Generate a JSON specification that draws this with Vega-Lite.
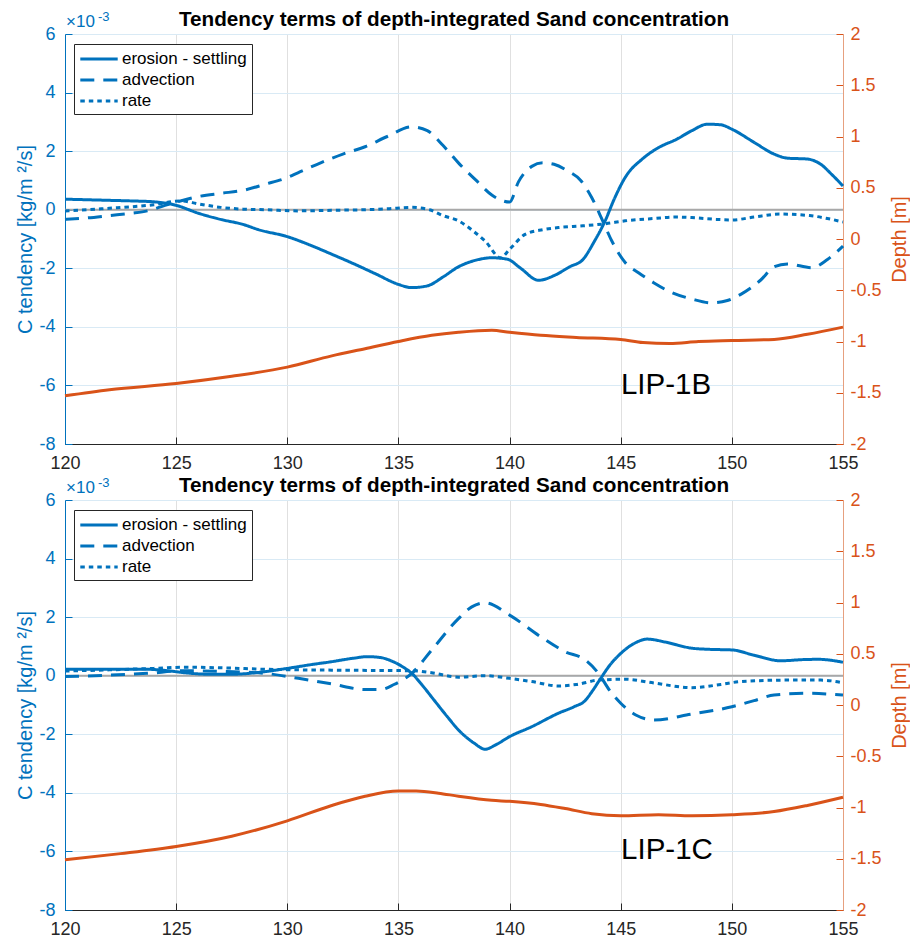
{
  "$schema": "https://vega.github.io/schema/vega-lite/v6.json",
  "background": "#ffffff",
  "padding": {"left": 15, "top": 8, "right": 0, "bottom": 0},
  "spacing": 2,
  "config": {
    "font": "Liberation Sans",
    "view": {"stroke": null},
    "axis": {"labelFont": "Liberation Sans", "titleFont": "Liberation Sans"},
    "legend": {"labelFont": "Liberation Sans"},
    "title": {"font": "Liberation Sans"}
  },
  "datasets": {
    "tendency": [
      {"panel":1,"series":"erosion - settling","x":120,"value":0.36},{"panel":1,"series":"erosion - settling","x":121,"value":0.34},{"panel":1,"series":"erosion - settling","x":122,"value":0.32},{"panel":1,"series":"erosion - settling","x":123,"value":0.3},{"panel":1,"series":"erosion - settling","x":124,"value":0.27},{"panel":1,"series":"erosion - settling","x":125,"value":0.15},{"panel":1,"series":"erosion - settling","x":126,"value":-0.12},{"panel":1,"series":"erosion - settling","x":127,"value":-0.33},{"panel":1,"series":"erosion - settling","x":128,"value":-0.5},{"panel":1,"series":"erosion - settling","x":128.7,"value":-0.68},{"panel":1,"series":"erosion - settling","x":130,"value":-0.92},{"panel":1,"series":"erosion - settling","x":131,"value":-1.2},{"panel":1,"series":"erosion - settling","x":132,"value":-1.52},{"panel":1,"series":"erosion - settling","x":133,"value":-1.85},{"panel":1,"series":"erosion - settling","x":134,"value":-2.2},{"panel":1,"series":"erosion - settling","x":135,"value":-2.55},{"panel":1,"series":"erosion - settling","x":135.6,"value":-2.66},{"panel":1,"series":"erosion - settling","x":136.3,"value":-2.6},{"panel":1,"series":"erosion - settling","x":137,"value":-2.3},{"panel":1,"series":"erosion - settling","x":137.7,"value":-1.95},{"panel":1,"series":"erosion - settling","x":138.5,"value":-1.72},{"panel":1,"series":"erosion - settling","x":139.2,"value":-1.64},{"panel":1,"series":"erosion - settling","x":139.9,"value":-1.69},{"panel":1,"series":"erosion - settling","x":140.5,"value":-2.0},{"panel":1,"series":"erosion - settling","x":141.3,"value":-2.41},{"panel":1,"series":"erosion - settling","x":142,"value":-2.25},{"panel":1,"series":"erosion - settling","x":142.7,"value":-1.95},{"panel":1,"series":"erosion - settling","x":143.3,"value":-1.7},{"panel":1,"series":"erosion - settling","x":143.8,"value":-1.1},{"panel":1,"series":"erosion - settling","x":144.3,"value":-0.38},{"panel":1,"series":"erosion - settling","x":144.7,"value":0.35},{"panel":1,"series":"erosion - settling","x":145.2,"value":1.1},{"panel":1,"series":"erosion - settling","x":146,"value":1.75},{"panel":1,"series":"erosion - settling","x":146.7,"value":2.12},{"panel":1,"series":"erosion - settling","x":147.5,"value":2.4},{"panel":1,"series":"erosion - settling","x":148.2,"value":2.7},{"panel":1,"series":"erosion - settling","x":148.9,"value":2.92},{"panel":1,"series":"erosion - settling","x":149.5,"value":2.9},{"panel":1,"series":"erosion - settling","x":150,"value":2.75},{"panel":1,"series":"erosion - settling","x":151,"value":2.3},{"panel":1,"series":"erosion - settling","x":151.9,"value":1.9},{"panel":1,"series":"erosion - settling","x":152.5,"value":1.76},{"panel":1,"series":"erosion - settling","x":153.4,"value":1.73},{"panel":1,"series":"erosion - settling","x":154,"value":1.55},{"panel":1,"series":"erosion - settling","x":154.5,"value":1.2},{"panel":1,"series":"erosion - settling","x":155,"value":0.81},
      {"panel":1,"series":"advection","x":120,"value":-0.33},{"panel":1,"series":"advection","x":121,"value":-0.28},{"panel":1,"series":"advection","x":122,"value":-0.2},{"panel":1,"series":"advection","x":123,"value":-0.12},{"panel":1,"series":"advection","x":123.7,"value":-0.04},{"panel":1,"series":"advection","x":124.5,"value":0.15},{"panel":1,"series":"advection","x":125.2,"value":0.3},{"panel":1,"series":"advection","x":126,"value":0.45},{"panel":1,"series":"advection","x":127,"value":0.56},{"panel":1,"series":"advection","x":128,"value":0.66},{"panel":1,"series":"advection","x":129,"value":0.87},{"panel":1,"series":"advection","x":130,"value":1.1},{"panel":1,"series":"advection","x":130.5,"value":1.27},{"panel":1,"series":"advection","x":131.5,"value":1.6},{"panel":1,"series":"advection","x":132.5,"value":1.9},{"panel":1,"series":"advection","x":133.5,"value":2.15},{"panel":1,"series":"advection","x":134.5,"value":2.5},{"panel":1,"series":"advection","x":135.6,"value":2.83},{"panel":1,"series":"advection","x":136.3,"value":2.7},{"panel":1,"series":"advection","x":137,"value":2.2},{"panel":1,"series":"advection","x":137.7,"value":1.6},{"panel":1,"series":"advection","x":138.5,"value":1.0},{"panel":1,"series":"advection","x":139.2,"value":0.5},{"panel":1,"series":"advection","x":139.6,"value":0.33},{"panel":1,"series":"advection","x":140,"value":0.26},{"panel":1,"series":"advection","x":140.4,"value":0.95},{"panel":1,"series":"advection","x":141,"value":1.48},{"panel":1,"series":"advection","x":141.5,"value":1.6},{"panel":1,"series":"advection","x":142,"value":1.55},{"panel":1,"series":"advection","x":142.6,"value":1.33},{"panel":1,"series":"advection","x":143.2,"value":1.0},{"panel":1,"series":"advection","x":143.7,"value":0.41},{"panel":1,"series":"advection","x":144.2,"value":-0.4},{"panel":1,"series":"advection","x":144.6,"value":-1.07},{"panel":1,"series":"advection","x":145.2,"value":-1.8},{"panel":1,"series":"advection","x":145.8,"value":-2.15},{"panel":1,"series":"advection","x":146.5,"value":-2.5},{"panel":1,"series":"advection","x":147.3,"value":-2.83},{"panel":1,"series":"advection","x":148.2,"value":-3.05},{"panel":1,"series":"advection","x":149.1,"value":-3.18},{"panel":1,"series":"advection","x":149.8,"value":-3.1},{"panel":1,"series":"advection","x":150.4,"value":-2.89},{"panel":1,"series":"advection","x":151.3,"value":-2.4},{"panel":1,"series":"advection","x":151.9,"value":-1.95},{"panel":1,"series":"advection","x":152.5,"value":-1.85},{"panel":1,"series":"advection","x":153.6,"value":-1.98},{"panel":1,"series":"advection","x":154.3,"value":-1.7},{"panel":1,"series":"advection","x":155,"value":-1.24},
      {"panel":1,"series":"rate","x":120,"value":-0.04},{"panel":1,"series":"rate","x":121,"value":0.0},{"panel":1,"series":"rate","x":122,"value":0.05},{"panel":1,"series":"rate","x":123,"value":0.1},{"panel":1,"series":"rate","x":124,"value":0.17},{"panel":1,"series":"rate","x":125.2,"value":0.3},{"panel":1,"series":"rate","x":126,"value":0.2},{"panel":1,"series":"rate","x":127,"value":0.08},{"panel":1,"series":"rate","x":128,"value":0.02},{"panel":1,"series":"rate","x":129,"value":0.0},{"panel":1,"series":"rate","x":130.5,"value":-0.04},{"panel":1,"series":"rate","x":132,"value":-0.02},{"panel":1,"series":"rate","x":133.5,"value":0.0},{"panel":1,"series":"rate","x":134.5,"value":0.03},{"panel":1,"series":"rate","x":135.6,"value":0.08},{"panel":1,"series":"rate","x":136.4,"value":0.0},{"panel":1,"series":"rate","x":137,"value":-0.2},{"panel":1,"series":"rate","x":137.7,"value":-0.38},{"panel":1,"series":"rate","x":138.4,"value":-0.75},{"panel":1,"series":"rate","x":138.9,"value":-1.07},{"panel":1,"series":"rate","x":139.6,"value":-1.64},{"panel":1,"series":"rate","x":140,"value":-1.35},{"panel":1,"series":"rate","x":140.7,"value":-0.84},{"panel":1,"series":"rate","x":141.5,"value":-0.68},{"panel":1,"series":"rate","x":142.2,"value":-0.61},{"panel":1,"series":"rate","x":143.3,"value":-0.55},{"panel":1,"series":"rate","x":144.3,"value":-0.48},{"panel":1,"series":"rate","x":145.2,"value":-0.38},{"panel":1,"series":"rate","x":146.5,"value":-0.3},{"panel":1,"series":"rate","x":147.5,"value":-0.25},{"panel":1,"series":"rate","x":148.2,"value":-0.27},{"panel":1,"series":"rate","x":149.3,"value":-0.33},{"panel":1,"series":"rate","x":150,"value":-0.35},{"panel":1,"series":"rate","x":151,"value":-0.25},{"panel":1,"series":"rate","x":152.2,"value":-0.15},{"panel":1,"series":"rate","x":153.5,"value":-0.2},{"panel":1,"series":"rate","x":154.3,"value":-0.3},{"panel":1,"series":"rate","x":155,"value":-0.42},
      {"panel":2,"series":"erosion - settling","x":120,"value":0.22},{"panel":2,"series":"erosion - settling","x":122,"value":0.22},{"panel":2,"series":"erosion - settling","x":123.7,"value":0.22},{"panel":2,"series":"erosion - settling","x":124.5,"value":0.18},{"panel":2,"series":"erosion - settling","x":125.4,"value":0.1},{"panel":2,"series":"erosion - settling","x":126.5,"value":0.05},{"panel":2,"series":"erosion - settling","x":127.5,"value":0.05},{"panel":2,"series":"erosion - settling","x":128.8,"value":0.12},{"panel":2,"series":"erosion - settling","x":130,"value":0.25},{"panel":2,"series":"erosion - settling","x":131,"value":0.37},{"panel":2,"series":"erosion - settling","x":132,"value":0.48},{"panel":2,"series":"erosion - settling","x":133,"value":0.6},{"panel":2,"series":"erosion - settling","x":133.6,"value":0.65},{"panel":2,"series":"erosion - settling","x":134.2,"value":0.62},{"panel":2,"series":"erosion - settling","x":134.7,"value":0.5},{"panel":2,"series":"erosion - settling","x":135.2,"value":0.3},{"panel":2,"series":"erosion - settling","x":135.6,"value":0.08},{"panel":2,"series":"erosion - settling","x":136.1,"value":-0.35},{"panel":2,"series":"erosion - settling","x":136.6,"value":-0.83},{"panel":2,"series":"erosion - settling","x":137.2,"value":-1.4},{"panel":2,"series":"erosion - settling","x":137.7,"value":-1.85},{"panel":2,"series":"erosion - settling","x":138.4,"value":-2.3},{"panel":2,"series":"erosion - settling","x":138.9,"value":-2.51},{"panel":2,"series":"erosion - settling","x":139.4,"value":-2.35},{"panel":2,"series":"erosion - settling","x":140,"value":-2.08},{"panel":2,"series":"erosion - settling","x":141,"value":-1.74},{"panel":2,"series":"erosion - settling","x":142.2,"value":-1.28},{"panel":2,"series":"erosion - settling","x":142.9,"value":-1.06},{"panel":2,"series":"erosion - settling","x":143.4,"value":-0.85},{"panel":2,"series":"erosion - settling","x":143.7,"value":-0.55},{"panel":2,"series":"erosion - settling","x":144.1,"value":-0.09},{"panel":2,"series":"erosion - settling","x":144.5,"value":0.35},{"panel":2,"series":"erosion - settling","x":145,"value":0.76},{"panel":2,"series":"erosion - settling","x":145.6,"value":1.1},{"panel":2,"series":"erosion - settling","x":146.2,"value":1.25},{"panel":2,"series":"erosion - settling","x":147,"value":1.15},{"panel":2,"series":"erosion - settling","x":148.2,"value":0.94},{"panel":2,"series":"erosion - settling","x":149,"value":0.9},{"panel":2,"series":"erosion - settling","x":150,"value":0.88},{"panel":2,"series":"erosion - settling","x":151,"value":0.7},{"panel":2,"series":"erosion - settling","x":152.2,"value":0.51},{"panel":2,"series":"erosion - settling","x":153.2,"value":0.55},{"panel":2,"series":"erosion - settling","x":153.9,"value":0.56},{"panel":2,"series":"erosion - settling","x":155,"value":0.46},
      {"panel":2,"series":"advection","x":120,"value":-0.03},{"panel":2,"series":"advection","x":122,"value":0.02},{"panel":2,"series":"advection","x":123.7,"value":0.08},{"panel":2,"series":"advection","x":125.4,"value":0.17},{"panel":2,"series":"advection","x":127,"value":0.15},{"panel":2,"series":"advection","x":129,"value":0.08},{"panel":2,"series":"advection","x":130.5,"value":-0.09},{"panel":2,"series":"advection","x":132,"value":-0.28},{"panel":2,"series":"advection","x":133.5,"value":-0.47},{"panel":2,"series":"advection","x":134.2,"value":-0.47},{"panel":2,"series":"advection","x":134.8,"value":-0.3},{"panel":2,"series":"advection","x":135.6,"value":0.08},{"panel":2,"series":"advection","x":136.5,"value":0.88},{"panel":2,"series":"advection","x":137.7,"value":1.95},{"panel":2,"series":"advection","x":138.3,"value":2.35},{"panel":2,"series":"advection","x":138.9,"value":2.49},{"panel":2,"series":"advection","x":140,"value":2.07},{"panel":2,"series":"advection","x":141.4,"value":1.33},{"panel":2,"series":"advection","x":142.5,"value":0.82},{"panel":2,"series":"advection","x":143.4,"value":0.54},{"panel":2,"series":"advection","x":144,"value":0.08},{"panel":2,"series":"advection","x":144.5,"value":-0.5},{"panel":2,"series":"advection","x":145,"value":-0.94},{"panel":2,"series":"advection","x":145.7,"value":-1.35},{"panel":2,"series":"advection","x":146.5,"value":-1.51},{"panel":2,"series":"advection","x":148.2,"value":-1.31},{"panel":2,"series":"advection","x":150,"value":-1.06},{"panel":2,"series":"advection","x":151,"value":-0.85},{"panel":2,"series":"advection","x":151.9,"value":-0.66},{"panel":2,"series":"advection","x":153.4,"value":-0.6},{"panel":2,"series":"advection","x":155,"value":-0.66},
      {"panel":2,"series":"rate","x":120,"value":0.16},{"panel":2,"series":"rate","x":122,"value":0.2},{"panel":2,"series":"rate","x":124,"value":0.25},{"panel":2,"series":"rate","x":125.4,"value":0.29},{"panel":2,"series":"rate","x":127,"value":0.27},{"panel":2,"series":"rate","x":129,"value":0.22},{"panel":2,"series":"rate","x":132,"value":0.19},{"panel":2,"series":"rate","x":135.6,"value":0.17},{"panel":2,"series":"rate","x":136.5,"value":0.1},{"panel":2,"series":"rate","x":137.7,"value":-0.05},{"panel":2,"series":"rate","x":138.9,"value":0.0},{"panel":2,"series":"rate","x":140,"value":-0.09},{"panel":2,"series":"rate","x":141,"value":-0.2},{"panel":2,"series":"rate","x":142.2,"value":-0.35},{"panel":2,"series":"rate","x":143,"value":-0.3},{"panel":2,"series":"rate","x":144,"value":-0.15},{"panel":2,"series":"rate","x":145.2,"value":-0.12},{"panel":2,"series":"rate","x":146.5,"value":-0.25},{"panel":2,"series":"rate","x":148.2,"value":-0.41},{"panel":2,"series":"rate","x":149.5,"value":-0.3},{"panel":2,"series":"rate","x":150.4,"value":-0.2},{"panel":2,"series":"rate","x":152.5,"value":-0.15},{"panel":2,"series":"rate","x":154,"value":-0.15},{"panel":2,"series":"rate","x":155,"value":-0.24}
    ],
    "depth": [
      {"panel":1,"x":120,"depth":-1.53},{"panel":1,"x":122,"depth":-1.47},{"panel":1,"x":125,"depth":-1.41},{"panel":1,"x":127.5,"depth":-1.34},{"panel":1,"x":130,"depth":-1.25},{"panel":1,"x":132,"depth":-1.14},{"panel":1,"x":133.5,"depth":-1.07},{"panel":1,"x":135,"depth":-1.0},{"panel":1,"x":136.5,"depth":-0.94},{"panel":1,"x":137.7,"depth":-0.91},{"panel":1,"x":139.2,"depth":-0.89},{"panel":1,"x":140,"depth":-0.91},{"panel":1,"x":141.4,"depth":-0.94},{"panel":1,"x":143,"depth":-0.96},{"panel":1,"x":145,"depth":-0.98},{"panel":1,"x":146,"depth":-1.01},{"panel":1,"x":147.2,"depth":-1.02},{"panel":1,"x":148.5,"depth":-1.0},{"panel":1,"x":150,"depth":-0.99},{"panel":1,"x":151.9,"depth":-0.98},{"panel":1,"x":153.4,"depth":-0.93},{"panel":1,"x":155,"depth":-0.86},
      {"panel":2,"x":120,"depth":-1.51},{"panel":2,"x":122.5,"depth":-1.45},{"panel":2,"x":125,"depth":-1.38},{"panel":2,"x":127.5,"depth":-1.28},{"panel":2,"x":130,"depth":-1.13},{"panel":2,"x":132,"depth":-0.98},{"panel":2,"x":133.5,"depth":-0.89},{"panel":2,"x":135,"depth":-0.84},{"panel":2,"x":135.8,"depth":-0.84},{"panel":2,"x":136.8,"depth":-0.86},{"panel":2,"x":137.7,"depth":-0.89},{"panel":2,"x":139.2,"depth":-0.93},{"panel":2,"x":140,"depth":-0.94},{"panel":2,"x":141.4,"depth":-0.97},{"panel":2,"x":142.5,"depth":-1.01},{"panel":2,"x":143.7,"depth":-1.06},{"panel":2,"x":145,"depth":-1.08},{"panel":2,"x":146.7,"depth":-1.07},{"panel":2,"x":148.2,"depth":-1.08},{"panel":2,"x":150,"depth":-1.07},{"panel":2,"x":151.9,"depth":-1.04},{"panel":2,"x":153.4,"depth":-0.98},{"panel":2,"x":155,"depth":-0.9}
    ]
  },
  "resolve": {"scale": {"strokeDash": "independent"}, "legend": {"strokeDash": "independent"}},
  "vconcat": [
    {
      "title": {"text": "Tendency terms of depth-integrated Sand concentration", "fontSize": 20.7, "fontWeight": "bold", "color": "#000000", "baseline": "alphabetic", "offset": -36, "anchor": "middle", "frame": "group"},
      "width": 778,
      "height": 410,
      "layer": [
        {"data": {"values": [{}]}, "mark": {"type": "rule", "color": "#a8a8a8", "strokeWidth": 2}, "encoding": {"y": {"datum": 0, "type": "quantitative", "scale": {"domain": [-8, 6], "nice": false, "zero": false}, "axis": null}}},
        {
          "data": {"name": "tendency"},
          "transform": [{"filter": "datum.panel == 1"}],
          "mark": {"type": "line", "interpolate": "monotone", "strokeWidth": 3, "color": "#0072BD", "strokeCap": "butt"},
          "encoding": {
            "x": {"field": "x", "type": "quantitative", "scale": {"domain": [120, 155], "nice": false, "zero": false},
              "axis": {"values": [120,125,130,135,140,145,150,155], "title": null, "grid": true, "gridColor": "#e0e0e0", "domainColor": "#262626", "tickColor": "#262626", "tickSize": -7, "labelPadding": 17, "labelFontSize": 18, "labelColor": "#262626", "labelFlush": false, "labelOverlap": false}},
            "y": {"field": "value", "type": "quantitative", "scale": {"domain": [-8, 6], "nice": false, "zero": false},
              "axis": {"orient": "left", "values": [-8,-6,-4,-2,0,2,4,6], "labelExpr": "'' + datum.value", "title": "C tendency [kg/m ²/s]", "titleColor": "#0072BD", "titleFontSize": 20, "titleFontWeight": "normal", "titlePadding": 3, "grid": true, "gridColor": "#d9eaf5", "domainColor": "#0072BD", "tickColor": "#0072BD", "tickSize": -7, "labelPadding": 17, "labelFontSize": 18, "labelColor": "#0072BD", "labelFlush": false}},
            "strokeDash": {"field": "series", "type": "nominal", "scale": {"domain": ["erosion - settling", "advection", "rate"], "range": [[1, 0], [14, 9], [4.5, 4]]},
              "legend": {"orient": "none", "legendX": 9, "legendY": 10, "title": null, "symbolType": "M-2.2,0H2.2", "symbolSize": 289, "symbolStrokeWidth": 3, "symbolStrokeColor": "#0072BD", "symbolFillColor": "transparent", "labelFontSize": 17, "labelColor": "#000000", "strokeColor": "#262626", "fillColor": "#ffffff", "padding": 5, "rowPadding": 3, "labelOffset": 13, "symbolOffset": 10, "labelLimit": 300}}
          }
        },
        {
          "data": {"name": "depth"},
          "transform": [{"filter": "datum.panel == 1"}],
          "mark": {"type": "line", "interpolate": "monotone", "strokeWidth": 3, "color": "#D95319"},
          "encoding": {
            "x": {"field": "x", "type": "quantitative"},
            "y": {"field": "depth", "type": "quantitative", "scale": {"domain": [-2, 2], "nice": false, "zero": false},
              "axis": {"orient": "right", "values": [-2,-1.5,-1,-0.5,0,0.5,1,1.5,2], "labelExpr": "'' + datum.value", "title": "Depth [m]", "titleAngle": 270, "titleBaseline": "top", "titleColor": "#D95319", "titleFontSize": 20, "titleFontWeight": "normal", "titlePadding": 8, "grid": false, "domainColor": "#e6a07f", "tickColor": "#D95319", "tickSize": -7, "labelPadding": 14, "labelFontSize": 18, "labelColor": "#D95319", "labelFlush": false}}
          }
        },
        {"data": {"values": [{}]}, "mark": {"type": "text", "text": "×10", "fontSize": 17, "color": "#0072BD", "align": "left", "baseline": "alphabetic", "dy": -6.6, "dx": 1}, "encoding": {"x": {"datum": 120, "type": "quantitative"}, "y": {"datum": 6, "type": "quantitative", "scale": {"domain": [-8, 6], "nice": false, "zero": false}, "axis": null}}},
        {"data": {"values": [{}]}, "mark": {"type": "text", "text": "-3", "fontSize": 13, "color": "#0072BD", "align": "left", "baseline": "alphabetic", "dy": -13.5, "dx": 33}, "encoding": {"x": {"datum": 120, "type": "quantitative"}, "y": {"datum": 6, "type": "quantitative", "scale": {"domain": [-8, 6], "nice": false, "zero": false}, "axis": null}}},
        {"data": {"values": [{}]}, "mark": {"type": "text", "text": "LIP-1B", "fontSize": 29.5, "color": "#000000", "align": "center", "baseline": "alphabetic"}, "encoding": {"x": {"datum": 147.04, "type": "quantitative"}, "y": {"datum": -6.29, "type": "quantitative", "scale": {"domain": [-8, 6], "nice": false, "zero": false}, "axis": null}}}
      ],
      "resolve": {"scale": {"y": "independent"}, "axis": {"y": "independent"}}
    },
    {
      "title": {"text": "Tendency terms of depth-integrated Sand concentration", "fontSize": 20.7, "fontWeight": "bold", "color": "#000000", "baseline": "alphabetic", "offset": -36, "anchor": "middle", "frame": "group"},
      "width": 778,
      "height": 410,
      "layer": [
        {"data": {"values": [{}]}, "mark": {"type": "rule", "color": "#a8a8a8", "strokeWidth": 2}, "encoding": {"y": {"datum": 0, "type": "quantitative", "scale": {"domain": [-8, 6], "nice": false, "zero": false}, "axis": null}}},
        {
          "data": {"name": "tendency"},
          "transform": [{"filter": "datum.panel == 2"}],
          "mark": {"type": "line", "interpolate": "monotone", "strokeWidth": 3, "color": "#0072BD", "strokeCap": "butt"},
          "encoding": {
            "x": {"field": "x", "type": "quantitative", "scale": {"domain": [120, 155], "nice": false, "zero": false},
              "axis": {"values": [120,125,130,135,140,145,150,155], "title": null, "grid": true, "gridColor": "#e0e0e0", "domainColor": "#262626", "tickColor": "#262626", "tickSize": -7, "labelPadding": 17, "labelFontSize": 18, "labelColor": "#262626", "labelFlush": false, "labelOverlap": false}},
            "y": {"field": "value", "type": "quantitative", "scale": {"domain": [-8, 6], "nice": false, "zero": false},
              "axis": {"orient": "left", "values": [-8,-6,-4,-2,0,2,4,6], "labelExpr": "'' + datum.value", "title": "C tendency [kg/m ²/s]", "titleColor": "#0072BD", "titleFontSize": 20, "titleFontWeight": "normal", "titlePadding": 3, "grid": true, "gridColor": "#d9eaf5", "domainColor": "#0072BD", "tickColor": "#0072BD", "tickSize": -7, "labelPadding": 17, "labelFontSize": 18, "labelColor": "#0072BD", "labelFlush": false}},
            "strokeDash": {"field": "series", "type": "nominal", "scale": {"domain": ["erosion - settling", "advection", "rate"], "range": [[1, 0], [14, 9], [4.5, 4]]},
              "legend": {"orient": "none", "legendX": 9, "legendY": 10, "title": null, "symbolType": "M-2.2,0H2.2", "symbolSize": 289, "symbolStrokeWidth": 3, "symbolStrokeColor": "#0072BD", "symbolFillColor": "transparent", "labelFontSize": 17, "labelColor": "#000000", "strokeColor": "#262626", "fillColor": "#ffffff", "padding": 5, "rowPadding": 3, "labelOffset": 13, "symbolOffset": 10, "labelLimit": 300}}
          }
        },
        {
          "data": {"name": "depth"},
          "transform": [{"filter": "datum.panel == 2"}],
          "mark": {"type": "line", "interpolate": "monotone", "strokeWidth": 3, "color": "#D95319"},
          "encoding": {
            "x": {"field": "x", "type": "quantitative"},
            "y": {"field": "depth", "type": "quantitative", "scale": {"domain": [-2, 2], "nice": false, "zero": false},
              "axis": {"orient": "right", "values": [-2,-1.5,-1,-0.5,0,0.5,1,1.5,2], "labelExpr": "'' + datum.value", "title": "Depth [m]", "titleAngle": 270, "titleBaseline": "top", "titleColor": "#D95319", "titleFontSize": 20, "titleFontWeight": "normal", "titlePadding": 8, "grid": false, "domainColor": "#e6a07f", "tickColor": "#D95319", "tickSize": -7, "labelPadding": 14, "labelFontSize": 18, "labelColor": "#D95319", "labelFlush": false}}
          }
        },
        {"data": {"values": [{}]}, "mark": {"type": "text", "text": "×10", "fontSize": 17, "color": "#0072BD", "align": "left", "baseline": "alphabetic", "dy": -6.6, "dx": 1}, "encoding": {"x": {"datum": 120, "type": "quantitative"}, "y": {"datum": 6, "type": "quantitative", "scale": {"domain": [-8, 6], "nice": false, "zero": false}, "axis": null}}},
        {"data": {"values": [{}]}, "mark": {"type": "text", "text": "-3", "fontSize": 13, "color": "#0072BD", "align": "left", "baseline": "alphabetic", "dy": -13.5, "dx": 33}, "encoding": {"x": {"datum": 120, "type": "quantitative"}, "y": {"datum": 6, "type": "quantitative", "scale": {"domain": [-8, 6], "nice": false, "zero": false}, "axis": null}}},
        {"data": {"values": [{}]}, "mark": {"type": "text", "text": "LIP-1C", "fontSize": 29.5, "color": "#000000", "align": "center", "baseline": "alphabetic"}, "encoding": {"x": {"datum": 147.08, "type": "quantitative"}, "y": {"datum": -6.27, "type": "quantitative", "scale": {"domain": [-8, 6], "nice": false, "zero": false}, "axis": null}}}
      ],
      "resolve": {"scale": {"y": "independent"}, "axis": {"y": "independent"}}
    }
  ]
}
